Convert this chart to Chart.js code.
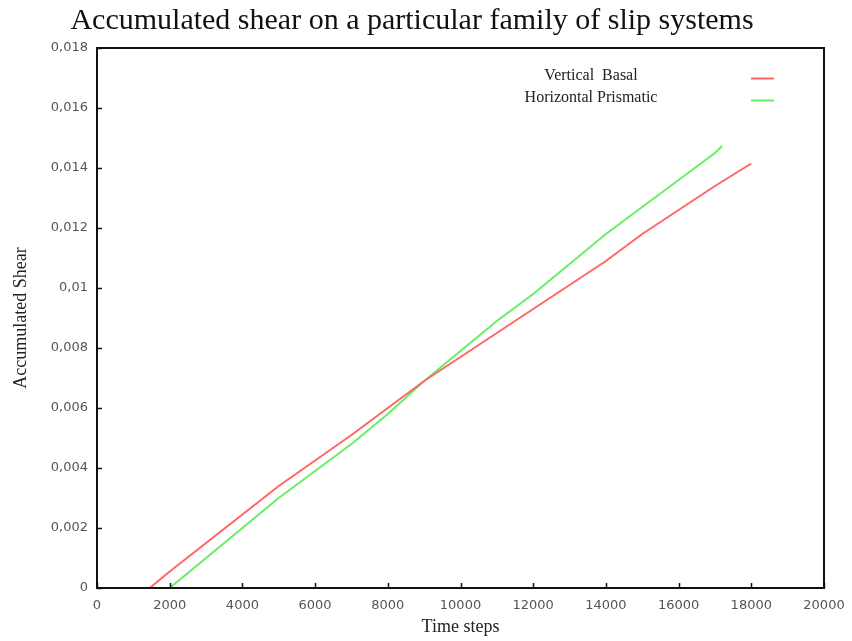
<!DOCTYPE html>
<html>
<head>
<meta charset="utf-8">
<script src="https://cdn.jsdelivr.net/npm/chart.js@4.4.1/dist/chart.umd.min.js"></script>
<style>
  html, body { margin: 0; padding: 0; background: #fff; }
  #wrap { width: 852px; height: 641px; }
</style>
</head>
<body>
<div id="wrap"><canvas id="shearChart"></canvas></div>
<script>
// Dataset
const basalSteps = [1450, 2000, 3000, 4000, 5000, 6000, 7000, 8000, 9000, 10000, 11000, 12000, 13000, 14000, 15000, 16000, 17000, 18000];
const basalShear = [0, 0.00055, 0.0015, 0.00245, 0.0034, 0.00425, 0.0051, 0.0060, 0.0069, 0.0077, 0.0085, 0.0093, 0.0101, 0.0109, 0.0118, 0.0126, 0.0134, 0.01415];

const prismSteps = [2000, 3000, 4000, 5000, 6000, 7000, 8000, 9000, 10000, 11000, 12000, 13000, 14000, 15000, 16000, 17000, 17200];
const prismShear = [0, 0.0010, 0.0020, 0.0030, 0.0039, 0.0048, 0.0058, 0.0069, 0.0079, 0.0089, 0.0098, 0.0108, 0.0118, 0.0127, 0.0136, 0.0145, 0.01473];

const seriesLabels = ['Vertical  Basal', 'Horizontal Prismatic'];
const xTicks = [0, 2000, 4000, 6000, 8000, 10000, 12000, 14000, 16000, 18000, 20000];
const yTicks = [0, 0.002, 0.004, 0.006, 0.008, 0.01, 0.012, 0.014, 0.016, 0.018];

const toPoints = (xs, ys) => xs.map((x, i) => ({ x: x, y: ys[i] }));

// frame + inward tick marks + gnuplot style key
const framePlugin = {
    id: 'frame',
    afterDatasetsDraw(chart) {
        const { ctx, chartArea: a, scales } = chart;
        ctx.save();
        ctx.strokeStyle = '#111';
        ctx.lineWidth = 1.5;
        // tick marks
        ctx.beginPath();
        scales.x.ticks.forEach(t => {
            const px = Math.round(scales.x.getPixelForValue(t.value)) + 0.5;
            ctx.moveTo(px, a.bottom);
            ctx.lineTo(px, a.bottom - 5);
        });
        scales.y.ticks.forEach(t => {
            const py = Math.round(scales.y.getPixelForValue(t.value)) + 0.5;
            ctx.moveTo(a.left, py);
            ctx.lineTo(a.left + 5, py);
        });
        ctx.stroke();
        ctx.lineWidth = 2;
        ctx.strokeRect(a.left, a.top, a.right - a.left, a.bottom - a.top);

        // key
        ctx.font = '16px "Liberation Serif", serif';
        ctx.textAlign = 'center';
        ctx.textBaseline = 'middle';
        chart.data.datasets.forEach((ds, i) => {
            const y = a.top + 30 + i * 22;
            ctx.fillStyle = '#222';
            ctx.fillText(ds.label, a.left + 494, y - 2);
            ctx.strokeStyle = ds.borderColor;
            ctx.lineWidth = 2;
            ctx.beginPath();
            ctx.moveTo(a.left + 654, y + 0.5);
            ctx.lineTo(a.left + 677, y + 0.5);
            ctx.stroke();
        });
        ctx.restore();
    }
};

const shearChart = new Chart(document.getElementById('shearChart').getContext('2d'), {
    type: 'line',
    data: {
        datasets: [
            {
                label: seriesLabels[0],
                data: toPoints(basalSteps, basalShear),
                borderColor: '#ff6666',
                borderWidth: 2,
                pointRadius: 0,
                tension: 0
            },
            {
                label: seriesLabels[1],
                data: toPoints(prismSteps, prismShear),
                borderColor: '#66ee66',
                borderWidth: 2,
                pointRadius: 0,
                tension: 0
            }
        ]
    },
    options: {
        responsive: true,
        maintainAspectRatio: false,
        animation: false,
        layout: { padding: { left: 0, right: 28, top: 0, bottom: 0 } },
        plugins: {
            legend: { display: false },
            tooltip: { enabled: false },
            title: {
                display: true,
                text: 'Accumulated shear on a particular family of slip systems',
                color: '#111',
                font: { family: '"Liberation Serif", serif', size: 30, weight: 'normal' },
                padding: { top: 3, bottom: 9 }
            }
        },
        scales: {
            x: {
                type: 'linear',
                min: 0,
                max: 20000,
                afterBuildTicks: s => { s.ticks = xTicks.map(v => ({ value: v })); },
                afterFit: s => { s.height = 53; s.paddingLeft = 0; s.paddingRight = 0; },
                grid: { display: false, drawTicks: false },
                border: { display: false },
                ticks: {
                    padding: 10,
                    color: '#555',
                    font: { family: '"DejaVu Sans", sans-serif', size: 13 },
                    callback: v => String(v)
                },
                title: {
                    display: true,
                    text: 'Time steps',
                    color: '#222',
                    font: { family: '"Liberation Serif", serif', size: 18 },
                    padding: { top: 0, bottom: 3 }
                }
            },
            y: {
                type: 'linear',
                min: 0,
                max: 0.018,
                afterBuildTicks: s => { s.ticks = yTicks.map(v => ({ value: v })); },
                afterFit: s => { s.width = 97; s.paddingTop = 0; s.paddingBottom = 0; },
                grid: { display: false, drawTicks: false },
                border: { display: false },
                ticks: {
                    padding: 9,
                    color: '#555',
                    font: { family: '"DejaVu Sans", sans-serif', size: 13 },
                    callback: v => String(v).replace('.', ',')
                },
                title: {
                    display: true,
                    text: 'Accumulated Shear',
                    color: '#222',
                    font: { family: '"Liberation Serif", serif', size: 18 },
                    padding: { top: 10, bottom: 0 }
                }
            }
        }
    },
    plugins: [framePlugin]
});
</script>
</body>
</html>
